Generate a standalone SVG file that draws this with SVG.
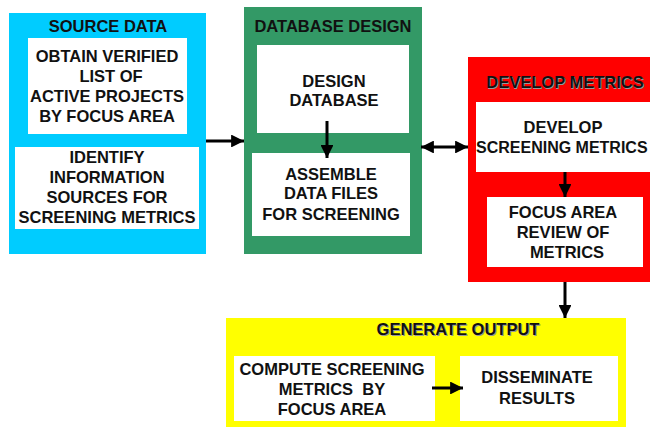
<svg xmlns="http://www.w3.org/2000/svg" width="650" height="428" viewBox="0 0 650 428">
<defs>
<marker id="ah" viewBox="0 0 10 10" refX="10" refY="5" markerWidth="4.3" markerHeight="4.3" markerUnits="strokeWidth" orient="auto-start-reverse">
<path d="M0,0 L10,5 L0,10 z" fill="#000"/>
</marker>
</defs>
<style>
text{font-family:"Liberation Sans",Arial,sans-serif;font-weight:bold;font-size:16.5px;fill:#111;text-anchor:middle}
.sh{fill:#999}
.w{fill:#fff}
.c{stroke:#000;stroke-width:3;fill:none;marker-end:url(#ah)}
</style>
<rect width="650" height="428" fill="#fff"/>
<g id="source-data">
<rect x="9" y="13" width="197" height="241" fill="#00CCFF"/>
<text x="108" y="32">SOURCE DATA</text>
<rect class="w" x="28" y="38" width="159" height="96"/>
<text x="107" y="62">OBTAIN VERIFIED</text>
<text x="111" y="82">LIST OF</text>
<text x="107" y="102">ACTIVE PROJECTS</text>
<text x="107" y="122">BY FOCUS AREA</text>
<rect class="w" x="15" y="147" width="184" height="82"/>
<text x="107" y="163">IDENTIFY</text>
<text x="107" y="183">INFORMATION</text>
<text x="107" y="203">SOURCES FOR</text>
<text x="107" y="223">SCREENING METRICS</text>
</g>
<g id="database-design">
<rect x="244" y="7" width="178" height="247" fill="#339966"/>
<text x="333" y="32">DATABASE DESIGN</text>
<rect class="w" x="257" y="45" width="152" height="88"/>
<text x="334" y="87">DESIGN</text>
<text x="334" y="106">DATABASE</text>
<rect class="w" x="252" y="153" width="158" height="83"/>
<text x="331" y="180">ASSEMBLE</text>
<text x="331" y="199">DATA FILES</text>
<text x="331" y="220">FOR SCREENING</text>
</g>
<g id="develop-metrics">
<rect x="468" y="57" width="182" height="225" fill="#FF0000"/>
<text class="sh" x="566" y="89">DEVELOP METRICS</text>
<text x="565" y="88">DEVELOP METRICS</text>
<rect class="w" x="476" y="102" width="174" height="70"/>
<text x="563" y="133">DEVELOP</text>
<text x="476" y="153" style="text-anchor:start;font-size:16px">SCREENING METRICS</text>
<rect class="w" x="487" y="197" width="156" height="70"/>
<text x="563" y="218">FOCUS AREA</text>
<text x="563" y="238">REVIEW OF</text>
<text x="567" y="258">METRICS</text>
</g>
<g id="generate-output">
<rect x="226" y="318" width="400" height="109" fill="#FFFF00"/>
<text class="sh" x="459" y="336">GENERATE OUTPUT</text>
<text x="458" y="335">GENERATE OUTPUT</text>
<rect class="w" x="234" y="356" width="201" height="65"/>
<text x="332" y="375">COMPUTE SCREENING</text>
<text x="332" y="395" xml:space="preserve">METRICS  BY</text>
<text x="332" y="415">FOCUS AREA</text>
<rect class="w" x="460" y="356" width="158" height="65"/>
<text x="537" y="383">DISSEMINATE</text>
<text x="537" y="404">RESULTS</text>
</g>
<g id="connectors">
<line class="c" x1="206" y1="141" x2="244" y2="141"/>
<line class="c" x1="327" y1="121" x2="327" y2="158"/>
<line class="c" x1="421" y1="147" x2="468" y2="147" style="marker-start:url(#ah)"/>
<line class="c" x1="565" y1="172" x2="565" y2="197"/>
<line class="c" x1="565" y1="282" x2="565" y2="318"/>
<line class="c" x1="432" y1="388" x2="463" y2="388"/>
</g>
</svg>
